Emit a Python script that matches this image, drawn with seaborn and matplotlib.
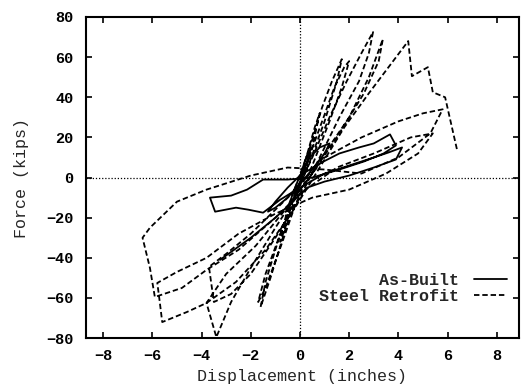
import numpy as np
import pandas as pd
import matplotlib
matplotlib.use('Agg')
import matplotlib.pyplot as plt
import seaborn as sns

# digitised hysteresis paths (displacement in inches, force in kips)
built_x = [0, 0.2, 0.45, 0.3, 0, -0.2, -0.45, -0.3, 0, 0.4, 0.8, 1.2, 1.0, 0.5, 0,
           -0.5, -1.0, -1.3, -1.0, -0.5, 0, 0.8, 1.6, 2.4, 3.0, 3.66, 3.9, 3.4, 2.6,
           1.6, 0.5, -0.5, -1.5, -2.15, -2.8, -3.66, -3.45, -2.6, -2.1, -1.5, -0.8, 0,
           1.0, 2.0, 3.0, 3.6, 4.15, 3.9, 3.0, 2.0, 1.0, 0.3, -0.3, -1.0, -2.0, -3.25]
built_y = [0, 8, 15, 8, -2, -9, -15, -8, 1, 10, 15, 17, 12, 4, -3,
           -10, -15, -17, -12, -5, 1, 7, 12, 15, 17, 21.5, 16, 12, 8,
           4, 0, -1, -1, -6, -9, -10, -17, -15, -16, -17.5, -11, -5,
           2, 6, 10, 12.5, 15, 9, 5, 1, -2, -5, -12, -20, -30, -41]

steel_x = [0, 0.3, 0.6, 0.8, 0.5, 0.1, -0.3, -0.6, -0.8, -0.5, -0.1,
           0.4, 0.9, 1.3, 1.7, 1.5, 1.0, 0.4, -0.2, -0.7, -1.2, -1.6, -1.4, -0.9, -0.3,
           0.3, 0.9, 1.4, 1.8, 2.0, 1.7, 1.2, 0.5, -0.2, -0.8, -1.4, -1.7, -1.4, -0.8, -0.2,
           0.5, 1.2, 1.9, 2.5, 2.97, 2.8, 2.4, 1.6, 0.8, 0.0, -1.0, -2.0, -2.8, -3.5,
           -3.7, -3.0, -2.0, -1.0, 0.0,
           1.0, 2.0, 2.8, 3.37, 3.2, 2.6, 1.6, 0.5, -0.6, -1.8, -3.0, -3.8,
           -3.4, -2.8, -2.0, -1.0, 0.0,
           1.0, 2.5, 4.0, 5.0, 5.8, 5.3, 4.0, 2.5, 1.0, -0.5, -2.0, -3.8, -5.0, -6.1,
           -6.4, -6.1, -5.9, -4.8, -3.8, -2.5, -1.0, 0.0,
           1.5, 3.0, 4.5, 5.4, 4.8, 3.5, 2.0, 0.5, -1.0, -2.5, -3.8, -5.0, -5.8,
           -5.7, -5.6, -4.6, -3.8, -2.6, -1.4, -0.2, 0.8, 1.8, 2.8, 3.6, 4.4,
           4.55, 5.2, 5.4, 5.9, 6.4]
steel_y = [0, 12, 25, 32, 15, 0, -12, -25, -32, -15, -2,
           15, 35, 48, 59, 48, 28, 8, -10, -30, -50, -64.5, -52, -32, -12,
           8, 28, 45, 55, 58, 45, 28, 6, -14, -35, -55, -62, -48, -28, -8,
           10, 30, 48, 62, 72.5, 62, 48, 30, 10, -10, -30, -48, -58, -62,
           -44.5, -38, -28, -16, -4,
           12, 30, 50, 69, 58, 42, 22, 2, -16, -34, -48, -62.5,
           -79.5, -62, -45, -25, -6,
           10, 20, 28, 32, 34, 22, 10, 2, 4, 5, 1, -6, -12, -25,
           -30, -45, -59.5, -55, -46, -36, -20, -8,
           5, 12, 20, 22, 12, 2, -6, -10, -18, -28, -40, -47, -52.5,
           -62, -72, -67, -62.5, -52, -36, -15, 5, 25, 42, 55, 68,
           50.5, 55, 42.5, 40, 13]

x_ticks = [-8, -6, -4, -2, 0, 2, 4, 6, 8]
y_ticks = [-80, -60, -40, -20, 0, 20, 40, 60, 80]

sns.set_theme(style='ticks')
plt.rcParams['font.family'] = ['Liberation Mono', 'DejaVu Sans Mono']
plt.rcParams['font.weight'] = 'bold'

df = pd.concat([
    pd.DataFrame({'x': built_x, 'y': built_y, 'series': 'As-Built'}),
    pd.DataFrame({'x': steel_x, 'y': steel_y, 'series': 'Steel Retrofit'}),
], ignore_index=True)

fig = plt.figure(figsize=(5.21, 3.86), dpi=100)
ax = fig.add_axes([0.165, 0.124, 0.831, 0.832])

ax.axhline(0, color='black', lw=0.9, ls=(0, (1, 1.5)), zorder=1)
ax.axvline(0, color='black', lw=0.9, ls=(0, (1, 1.5)), zorder=1)

sns.lineplot(data=df, x='x', y='y', hue='series', style='series',
             palette={'As-Built': 'black', 'Steel Retrofit': 'black'},
             dashes={'As-Built': '', 'Steel Retrofit': (3, 1.6)},
             sort=False, estimator=None, units='series', lw=1.3, ax=ax)

ax.set_xlim(-8.7, 8.9)
ax.set_ylim(-80, 80)
ax.set_xticks(x_ticks)
ax.set_yticks(y_ticks)
ax.tick_params(direction='in', top=True, right=True, length=4.5, width=1.2,
               labelsize=11, colors='black')
ax.tick_params(axis='x', pad=8)
ax.tick_params(axis='y', pad=9)
for s in ax.spines.values():
    s.set_linewidth(1.5)
    s.set_color('black')
ax.set_xlabel('Displacement (inches)', fontsize=12, labelpad=4)
ax.set_ylabel('Force (kips)', fontsize=12, labelpad=12)

ax.legend(loc='lower right', bbox_to_anchor=(0.996, 0.075), frameon=False,
          markerfirst=False, handlelength=2.0, handletextpad=0.9,
          labelspacing=0.05, fontsize=12, borderaxespad=0.2)

fig.savefig('out.png', dpi=100)
